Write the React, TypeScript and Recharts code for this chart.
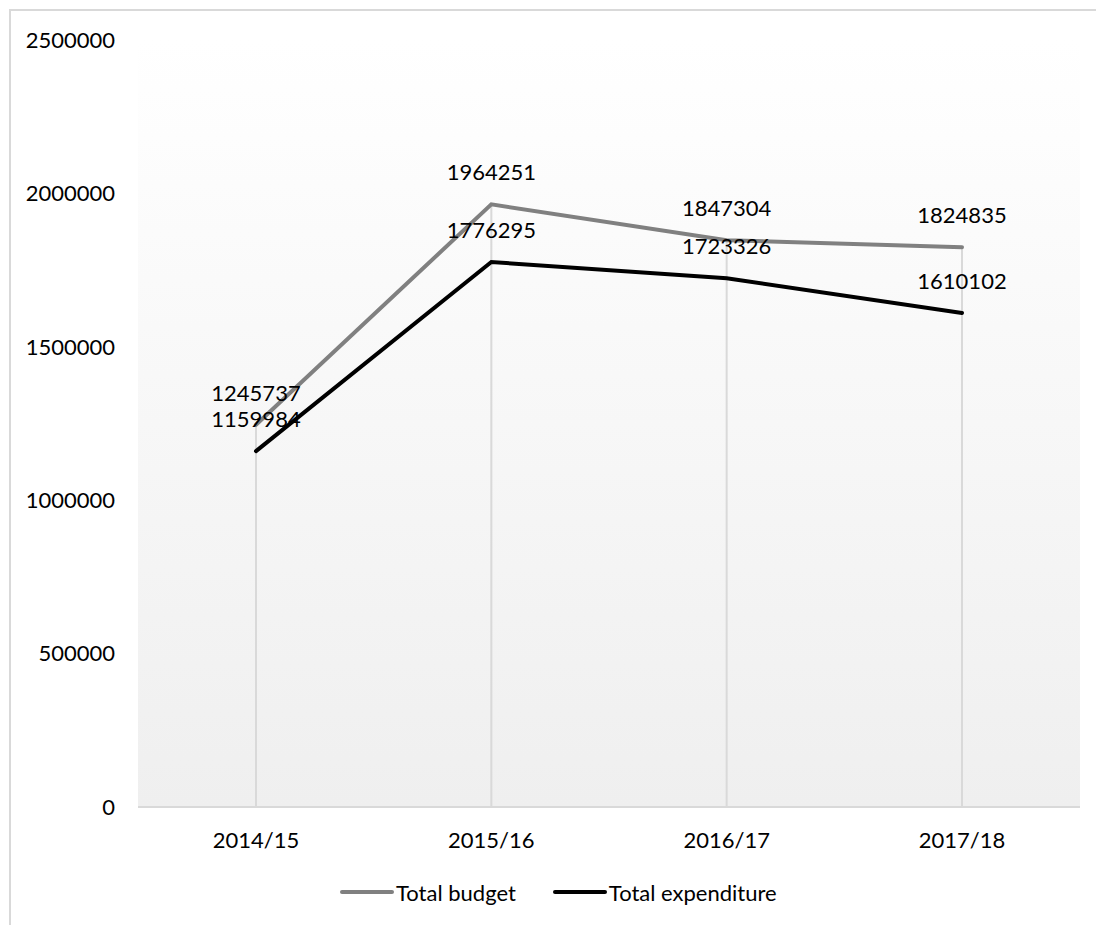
import { LineChart, Line, XAxis, YAxis, CartesianGrid, Legend, ReferenceLine, LabelList } from 'recharts';

const years = ['2014/15', '2015/16', '2016/17', '2017/18'];
const totalBudget = [1245737, 1964251, 1847304, 1824835];
const totalExpenditure = [1159984, 1776295, 1723326, 1610102];
const yTicks = [0, 500000, 1000000, 1500000, 2000000, 2500000];

const FONT = 'Lato, "Open Sans", sans-serif';
const FONT_SIZE = 22;
const GRID = '#d9d9d9';

const data = years.map((year, i) => ({
  year,
  budget: totalBudget[i],
  expenditure: totalExpenditure[i],
}));

const legendItems = [
  { label: 'Total budget', color: '#808080' },
  { label: 'Total expenditure', color: '#000000' },
];

function ChartLegend() {
  return (
    <div style={{ height: 58, display: 'flex', alignItems: 'flex-start', paddingLeft: 340, paddingTop: 11, boxSizing: 'border-box', fontFamily: FONT, fontSize: FONT_SIZE, color: '#000' }}>
      {legendItems.map((item, i) => (
        <div key={item.label} style={{ display: 'flex', alignItems: 'center', marginRight: i === 0 ? 37 : 0, height: 28 }}>
          <svg width={54} height={8} style={{ marginRight: 2 }}>
            <line x1={2} y1={4} x2={52} y2={4} stroke={item.color} strokeWidth={4} strokeLinecap="round" />
          </svg>
          <span>{item.label}</span>
        </div>
      ))}
    </div>
  );
}

export default function App() {
  return (
    <div style={{ position: 'fixed', left: 0, top: 0, width: 1096, height: 925, background: '#fff', overflow: 'hidden' }}>
      <div style={{ position: 'absolute', left: 9, top: 9, width: 1200, height: 1000, borderLeft: `2px solid ${GRID}`, borderTop: `2px solid ${GRID}` }} />
      <div style={{ position: 'absolute', left: 0, top: 0 }}>
        <LineChart width={1096} height={925} data={data} margin={{ top: 40, right: 16, bottom: 0, left: 0 }}>
          <defs>
            <linearGradient id="plotBg" x1="0" y1="0" x2="0" y2="1">
              <stop offset="0%" stopColor="#ffffff" />
              <stop offset="100%" stopColor="#efefef" />
            </linearGradient>
          </defs>
          <CartesianGrid horizontal={false} vertical={false} fill="url(#plotBg)" />
          <XAxis
            dataKey="year"
            height={60}
            padding={{ left: 118, right: 118 }}
            tickSize={0}
            tickMargin={25}
            axisLine={{ stroke: GRID, strokeWidth: 2 }}
            tick={{ fontFamily: FONT, fontSize: FONT_SIZE, fill: '#000' }}
          />
          <YAxis
            width={138}
            domain={[0, 2500000]}
            ticks={yTicks}
            interval={0}
            tickSize={0}
            tickMargin={23}
            axisLine={false}
            tick={{ fontFamily: FONT, fontSize: FONT_SIZE, fill: '#000' }}
          />
          {data.map((d) => (
            <ReferenceLine
              key={d.year}
              segment={[{ x: d.year, y: 0 }, { x: d.year, y: Math.max(d.budget, d.expenditure) }]}
              stroke={GRID}
              strokeWidth={2}
            />
          ))}
          <Legend verticalAlign="bottom" content={() => <ChartLegend />} />
          <Line type="linear" dataKey="budget" name="Total budget" stroke="#808080" strokeWidth={4} strokeLinecap="round" dot={false} activeDot={false} isAnimationActive={false}>
            <LabelList dataKey="budget" position="top" offset={24} style={{ fontFamily: FONT, fontSize: FONT_SIZE, fill: '#000' }} />
          </Line>
          <Line type="linear" dataKey="expenditure" name="Total expenditure" stroke="#000000" strokeWidth={4} strokeLinecap="round" dot={false} activeDot={false} isAnimationActive={false}>
            <LabelList dataKey="expenditure" position="top" offset={24} style={{ fontFamily: FONT, fontSize: FONT_SIZE, fill: '#000' }} />
          </Line>
        </LineChart>
      </div>
    </div>
  );
}
